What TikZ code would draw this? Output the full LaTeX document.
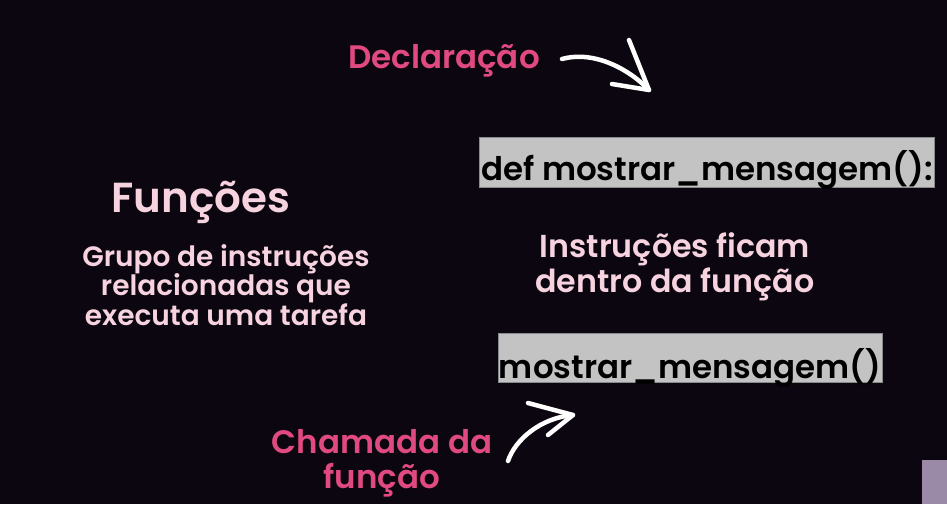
\documentclass[tikz,border=0pt]{standalone}
\usepackage{fontspec}
\newfontfamily\popsb{Poppins SemiBold}
\newfontfamily\popmd{Poppins Medium}
\definecolor{bg}{HTML}{0B0610}
\definecolor{pinkA}{HTML}{E04A80}
\definecolor{pinkL}{HTML}{F6D3DF}
\definecolor{codebg}{HTML}{C3C3C3}
\definecolor{codeln}{HTML}{8A8A8A}
\definecolor{corner}{HTML}{9A8AA8}
\tikzset{
  hl/.style={text=pinkA, font=\popsb\fontsize{32.5}{35}\selectfont, align=center, inner sep=0pt},
  lt/.style={text=pinkL, font=\popsb\fontsize{28}{29.5}\selectfont, align=center, inner sep=0pt},
  codebox/.style={fill=codebg, draw=codeln, line width=1pt, inner sep=0pt, text=black},
  codetxt/.style={text=black, font=\popsb\fontsize{32.5}{38}\selectfont, anchor=base, inner sep=0pt},
  wa/.style={draw=white, line width=4.5pt, line cap=round, line join=round}
}
\begin{document}
\begin{tikzpicture}[x=1pt,y=-1pt]
\fill[bg] (0,0) rectangle (947,504);
\useasboundingbox (0,0) rectangle (947,504);
\fill[corner] (922,460) rectangle (947,504);
% titles
\node[hl, anchor=base] (decl) at (444,68) {Declaração};
\node[lt, font=\popsb\fontsize{42}{46}\selectfont, anchor=base] (func) at (201,212) {Funções};
\node[lt, anchor=base] (desc) at (226,325) {Grupo de instruções\\relacionadas que\\executa uma tarefa};
\node[lt, font=\popsb\fontsize{31.7}{32}\selectfont, anchor=base] (instr) at (675,292) {Instruções ficam\\dentro da função};
\node[hl, font=\popsb\fontsize{32.5}{35}\selectfont, anchor=base] (cham) at (382,488) {Chamada da\\função};
% code boxes
\node[codebox, minimum width=455pt, minimum height=50pt] (defbox) at (707,162) {};
\node[codetxt] (deftxt) at (707,180) {def mostrar\_mensagem():};
\node[codebox, minimum width=384pt, minimum height=49pt] (callbox) at (690,357.5) {};
\node[codetxt] (calltxt) at (690,378) {mostrar\_mensagem()};
% arrows
\coordinate (t1s) at (562,59);
\coordinate (t1e) at (649,90);
\coordinate (t1a) at (629,40);
\coordinate (t1b) at (612,84);
\draw[wa] (t1s) .. controls (595,50) and (630,70) .. (t1e);
\draw[wa] (t1a) -- (t1e) -- (t1b);
\coordinate (b1s) at (508,461);
\coordinate (b1e) at (573,415);
\coordinate (b1a) at (528,403);
\coordinate (b1b) at (548,435);
\draw[wa] (b1s) .. controls (515,440) and (540,418) .. (b1e);
\draw[wa] (b1a) -- (b1e) -- (b1b);
\end{tikzpicture}
\end{document}
